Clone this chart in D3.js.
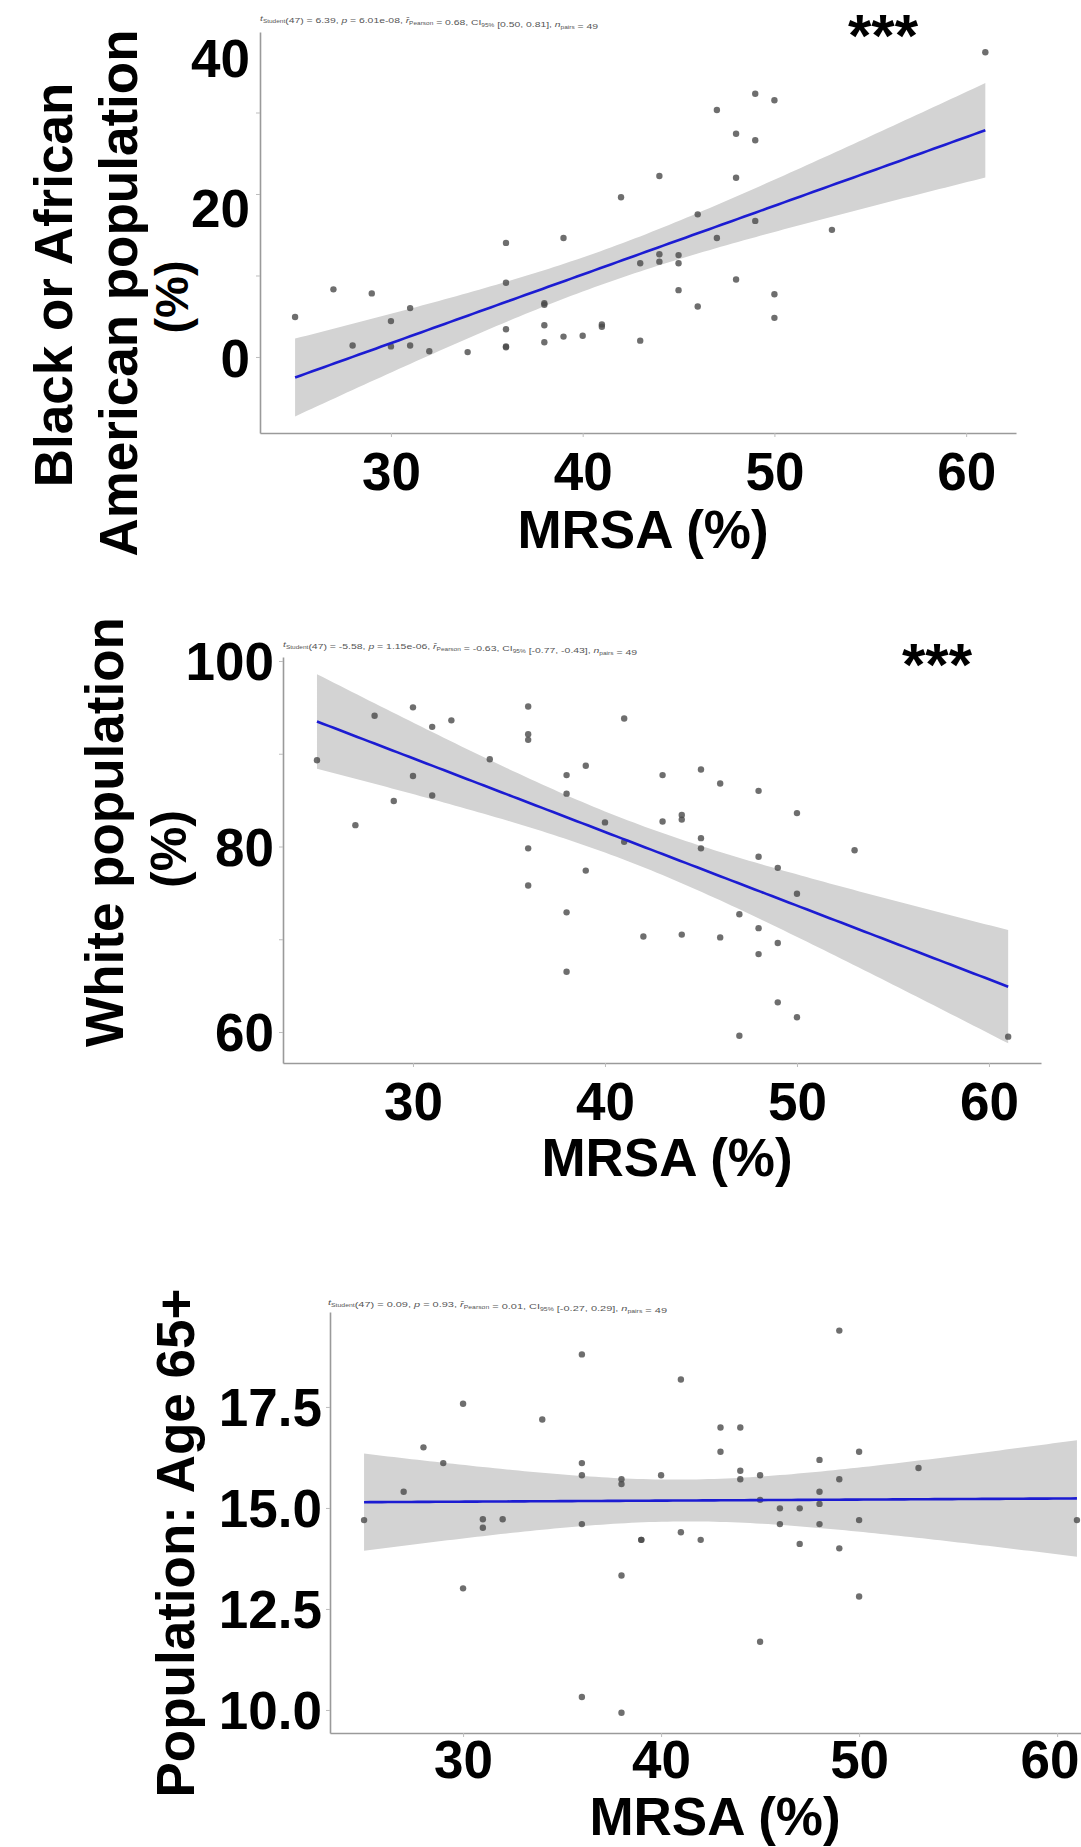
<!DOCTYPE html>
<html><head><meta charset="utf-8">
<script src="https://cdn.jsdelivr.net/npm/d3@7"></script>
<style>
body{margin:0;background:#fff}
svg{display:block}
text{font-family:"Liberation Sans",Arial,sans-serif}
</style>
</head><body>
<svg id="chart" width="1081" height="1847"></svg>
<script>
// ---------- DATA ----------
const blackMRSA = [25,27,28,29,30,30,31,31,32,34,36,36,36,36,36,38,38,38,38,39,39,40,41,41,42,43,43,44,44,44,45,45,45,46,46,47,47,48,48,48,49,49,49,50,50,50,53,61];
const blackPct  = [4.9,8.3,1.4,7.8,4.4,1.3,6.0,1.4,0.7,0.6,14.0,9.1,3.4,1.3,1.2,6.6,6.4,3.9,1.8,14.6,2.5,2.6,4.0,3.7,19.6,2.0,11.5,22.2,12.6,11.7,12.5,11.5,8.2,17.5,6.2,30.3,14.6,27.4,22.0,9.5,32.3,26.6,16.7,31.5,7.7,4.8,15.6,37.4];

const whiteMRSA = [25,27,28,29,30,30,31,31,32,34,36,36,36,36,36,38,38,38,38,39,39,40,41,41,42,43,43,44,44,44,45,45,45,46,46,47,47,48,48,48,48,49,49,49,50,50,50,53,61];
const whitePct  = [89.3,82.3,94.1,84.9,95.0,87.6,92.9,85.5,93.6,89.4,95.1,92.1,91.5,79.8,75.8,87.7,85.7,72.9,66.5,88.7,77.4,82.6,93.8,80.5,70.3,87.7,82.7,83.4,82.9,70.5,88.3,80.9,79.8,86.8,70.2,72.7,59.6,86.0,78.9,71.2,68.4,77.7,69.6,63.2,83.6,74.9,61.6,79.6,59.5];

const ageMRSA = [25,27,28,29,30,30,31,31,32,34,36,36,36,36,36,38,38,38,38,39,39,40,41,41,42,43,43,44,44,44,45,45,45,46,46,47,47,48,48,48,48,49,49,49,50,50,50,53,61];
const age65Pct = [14.70,15.40,16.50,16.11,17.58,13.01,14.72,14.51,14.72,17.19,18.80,16.11,15.81,14.60,10.32,15.71,15.59,13.33,9.93,14.21,14.21,15.81,18.18,14.40,14.21,16.99,16.39,16.99,15.92,15.71,15.81,15.20,11.69,14.99,14.60,14.99,14.11,16.19,15.40,15.10,14.60,19.39,15.71,14.00,16.39,14.70,12.81,15.99,14.70];

const xTickValues = [30,40,50,60];
const blackYTicks = [0,10,20,30];
const blackYLabels = [0,20,40];
const whiteYTicks = [60,70,80,90,100];
const whiteYLabels = [60,80,100];
const ageYTicks = [10.0,12.5,15.0,17.5];
const ageYLabels = [10.0,12.5,15.0,17.5];

const statsBlack = {t:"6.39", p:"6.01e-08", r:"0.68", ci:"[0.50, 0.81]", n:"49"};
const statsWhite = {t:"-5.58", p:"1.15e-06", r:"-0.63", ci:"[-0.77, -0.43]", n:"49"};
const statsAge   = {t:"0.09", p:"0.93", r:"0.01", ci:"[-0.27, 0.29]", n:"49"};

// ---------- DRAWING ----------
const svg = d3.select("#chart");
const W = 1081;
const TCRIT = 2.012;
const FONT = 53;

function fit(xs, ys){
  const n = xs.length, mx = d3.mean(xs), my = d3.mean(ys);
  let sxx = 0, sxy = 0;
  xs.forEach((x,i)=>{ sxx += (x-mx)*(x-mx); sxy += (x-mx)*(ys[i]-my); });
  const b = sxy/sxx, a = my - b*mx;
  let sse = 0;
  xs.forEach((x,i)=>{ const r = ys[i]-(a+b*x); sse += r*r; });
  const s = Math.sqrt(sse/(n-2));
  return {a,b,mx,sxx,s,n};
}

function statsText(g, x, y, st, width){
  const t = g.append("text").attr("x", x).attr("y", y)
    .attr("font-size", 8).attr("fill", "#555")
    .attr("textLength", width).attr("lengthAdjust", "spacingAndGlyphs");
  const sub = (s)=> t.append("tspan").attr("font-size", 5).attr("dy", 2).text(s);
  const up = ()=> t.append("tspan").attr("dy", -2).text("");
  t.append("tspan").attr("font-style","italic").text("t");
  sub("Student"); up();
  t.append("tspan").text("(47) = " + st.t + ", ");
  t.append("tspan").attr("font-style","italic").text("p");
  t.append("tspan").text(" = " + st.p + ", ");
  t.append("tspan").attr("font-style","italic").text("r\u0302");
  sub("Pearson"); up();
  t.append("tspan").text(" = " + st.r + ", CI");
  sub("95%"); up();
  t.append("tspan").text(" " + st.ci + ", ");
  t.append("tspan").attr("font-style","italic").text("n");
  sub("pairs"); up();
  t.append("tspan").text(" = " + st.n);
}

function panel(cfg){
  const g = svg.append("g");
  const x = d3.scaleLinear().domain(cfg.xDomain).range([cfg.left, cfg.right]);
  const y = d3.scaleLinear().domain(cfg.yDomain).range([cfg.bottom, cfg.top]);

  // regression + CI band
  const f = fit(cfg.xs, cfg.ys);
  const [x0, x1] = d3.extent(cfg.xs);
  const grid = d3.range(0, 121).map(i => x0 + (x1-x0)*i/120);
  const band = grid.map(v => {
    const yh = f.a + f.b*v;
    const se = f.s*Math.sqrt(1/f.n + (v-f.mx)*(v-f.mx)/f.sxx);
    return {v, lo: yh - TCRIT*se, hi: yh + TCRIT*se, yh};
  });
  g.append("path").datum(band)
    .attr("d", d3.area().x(d=>x(d.v)).y0(d=>y(d.lo)).y1(d=>y(d.hi)))
    .attr("fill", "#d3d3d3");

  // points
  g.append("g").selectAll("circle").data(cfg.xs.map((v,i)=>[v, cfg.ys[i]]))
    .join("circle")
    .attr("cx", d=>x(d[0])).attr("cy", d=>y(d[1])).attr("r", 3.2)
    .attr("fill", "#4a4a4a").attr("fill-opacity", 0.8);

  // line
  g.append("path").datum(band)
    .attr("d", d3.line().x(d=>x(d.v)).y(d=>y(d.yh)))
    .attr("fill", "none").attr("stroke", "#1c1cd2").attr("stroke-width", 2.6);

  // x axis
  const xa = g.append("g").attr("transform", `translate(0,${cfg.bottom})`)
    .call(d3.axisBottom(x).tickValues(xTickValues).tickSize(4).tickPadding(cfg.xPad).tickSizeOuter(0));
  // y axis (tick marks)
  const ya = g.append("g").attr("transform", `translate(${cfg.left},0)`)
    .call(d3.axisLeft(y).tickValues(cfg.yTicks).tickSize(4).tickSizeOuter(0).tickFormat(""));
  [xa, ya].forEach(a => {
    a.select(".domain").attr("stroke", "#9a9a9a").attr("stroke-width", 1.6);
    a.selectAll(".tick line").attr("stroke", "#bdbdbd").attr("stroke-width", 1);
  });
  xa.selectAll(".tick text").attr("font-size", FONT).attr("font-weight", "bold").attr("fill", "#000")
    .each(function(d){
      // keep every tick label inside the page width
      const bb = this.getBBox();
      const tx = x(d);
      const right = tx + bb.x + bb.width;
      if (right > W - 2) d3.select(this).attr("dx", (W - 2 - right) + "px");
    });

  // y tick labels
  const yl = cfg.labelScale || y;
  g.append("g").selectAll("text").data(cfg.yLabels).join("text")
    .attr("x", cfg.yLabelRight).attr("y", d=>yl(d)).attr("dy", "0.36em")
    .attr("text-anchor", "end").attr("font-size", FONT).attr("font-weight", "bold")
    .text(d => cfg.yFormat(d));

  // x title
  g.append("text").attr("x", (cfg.left+cfg.right)/2 + 5).attr("y", cfg.titleY)
    .attr("text-anchor", "middle").attr("font-size", FONT).attr("font-weight", "bold")
    .text("MRSA (%)");

  // y title lines
  cfg.yTitle.forEach(l => {
    g.append("text").attr("transform", `translate(${l.x},${l.cy}) rotate(-90)`)
      .attr("text-anchor", "middle").attr("font-size", l.size).attr("font-weight", "bold")
      .text(l.text);
  });

  statsText(g, cfg.stats.x, cfg.stats.y, cfg.stats.st, cfg.stats.w);
  if (cfg.stars){
    g.append("text").attr("x", cfg.stars.x).attr("y", cfg.stars.y)
      .attr("text-anchor", "middle").attr("font-size", 60).attr("font-weight", "bold")
      .text("***");
  }
}

// Panel 1 : Black or African American
panel({
  xs: blackMRSA, ys: blackPct,
  xDomain: [23.17, 62.6], left: 260, right: 1016,
  yDomain: [-9.33, 39.88], top: 32, bottom: 433,
  yTicks: blackYTicks, yLabels: blackYLabels, yFormat: d3.format("d"),
  labelScale: d3.scaleLinear().domain([0,40]).range([358,58]),
  yLabelRight: 250, xPad: 15, titleY: 548,
  yTitle: [
    {text:"Black or African", x:72, cy:285, size:53},
    {text:"American population", x:137, cy:293, size:53},
    {text:"(%)", x:188, cy:297, size:47}
  ],
  stats: {x:260, y:21, st: statsBlack, w:338},
  stars: {x:883, y:56}
});

// Panel 2 : White
panel({
  xs: whiteMRSA, ys: whitePct,
  xDomain: [23.23, 62.71], left: 283, right: 1041,
  yDomain: [56.66, 100.43], top: 657, bottom: 1063,
  yTicks: whiteYTicks, yLabels: whiteYLabels, yFormat: d3.format("d"),
  yLabelRight: 274, xPad: 15, titleY: 1176,
  yTitle: [
    {text:"White population", x:123, cy:832, size:53},
    {text:"(%)", x:186, cy:849, size:50}
  ],
  stats: {x:283, y:647, st: statsWhite, w:354},
  stars: {x:937, y:685}
});

// Panel 3 : Age 65+
panel({
  xs: ageMRSA, ys: age65Pct,
  xDomain: [23.28, 61.66], left: 330, right: 1090,
  yDomain: [9.43, 19.85], top: 1312, bottom: 1733,
  yTicks: ageYTicks, yLabels: ageYLabels, yFormat: d3.format(".1f"),
  yLabelRight: 322, xPad: 3, titleY: 1835,
  yTitle: [
    {text:"Population: Age 65+", x:194, cy:1543, size:53}
  ],
  stats: {x:328, y:1305, st: statsAge, w:339}
});
</script>
</body></html>
